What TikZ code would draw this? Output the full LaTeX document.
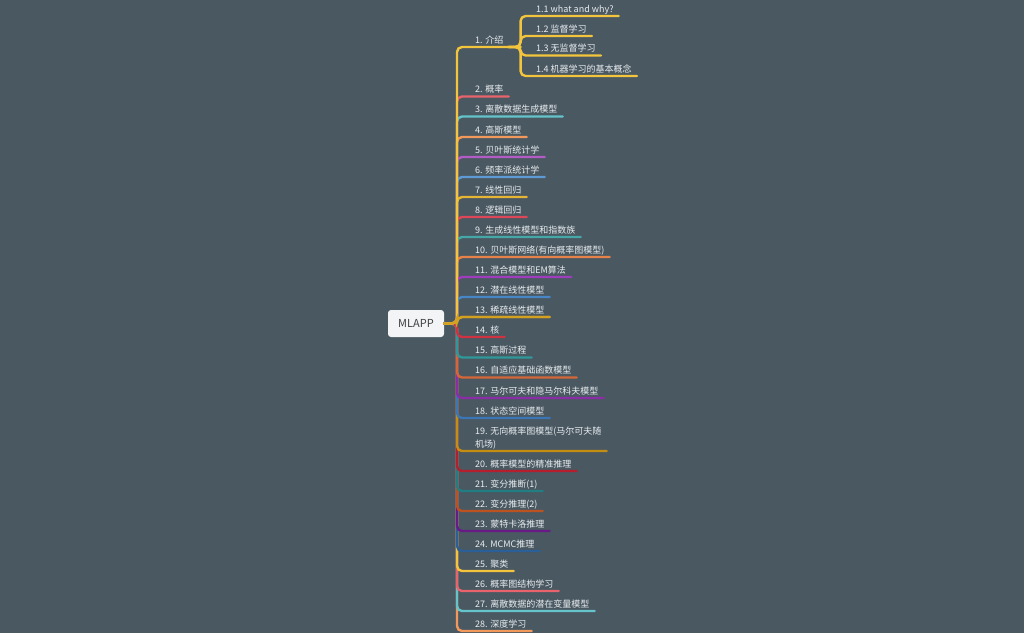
\documentclass[tikz,border=0pt]{standalone}
\usepackage{fontspec}
\setmainfont{Noto Sans CJK SC}
\usetikzlibrary{calc}
\definecolor{bg}{HTML}{4A5862}
\definecolor{txt}{HTML}{E8EDEF}
\definecolor{rootfill}{HTML}{F2F4F5}
\definecolor{roottxt}{HTML}{3C4043}
\definecolor{c1}{HTML}{F2C53D}
\definecolor{c2}{HTML}{E8636B}
\definecolor{c3}{HTML}{64C4CA}
\definecolor{c4}{HTML}{F2985B}
\definecolor{c5}{HTML}{B35BC6}
\definecolor{c6}{HTML}{5E9AD6}
\definecolor{c7}{HTML}{E6B534}
\definecolor{c8}{HTML}{DE4757}
\definecolor{c9}{HTML}{45A7A6}
\definecolor{c10}{HTML}{E6814A}
\definecolor{c11}{HTML}{9F3DBE}
\definecolor{c12}{HTML}{4787C5}
\definecolor{c13}{HTML}{D3A01F}
\definecolor{c14}{HTML}{CF3341}
\definecolor{c15}{HTML}{2F9899}
\definecolor{c16}{HTML}{D56737}
\definecolor{c17}{HTML}{8A2DA6}
\definecolor{c18}{HTML}{3A77B4}
\definecolor{c19}{HTML}{C48E12}
\definecolor{c20}{HTML}{B51F2D}
\definecolor{c21}{HTML}{227E80}
\definecolor{c22}{HTML}{BD5221}
\definecolor{c23}{HTML}{6A1A86}
\definecolor{c24}{HTML}{2B5F98}
\colorlet{c25}{c1}
\colorlet{c26}{c2}
\colorlet{c27}{c3}
\colorlet{c28}{c4}
\tikzset{
  lbl/.style={font=\fontsize{9}{13}\selectfont, text=txt, inner sep=0pt, anchor=base west},
  br/.style={line width=2.4pt, rounded corners=5pt, line cap=round},
  rootbox/.style={fill=rootfill, rounded corners=3pt, minimum width=56pt, minimum height=27pt,
    font=\fontsize{11}{13}\selectfont, text=roottxt, inner sep=0pt}
}
\begin{document}
\begin{tikzpicture}[x=1pt,y=-1pt]
\fill[bg] (0,0) rectangle (1024,633);
\useasboundingbox (0,0) rectangle (1024,633);

\node[rootbox] (root) at (416,323.5) {MLAPP};
\coordinate (tk) at (457,323.5);

% main topics
\node[lbl] (c1) at (475,43) {1. 介绍};
\node[lbl] (c2) at (475,92.5) {2. 概率};
\node[lbl] (c3) at (475,112.5) {3. 离散数据生成模型};
\node[lbl] (c4) at (475,133) {4. 高斯模型};
\node[lbl] (c5) at (475,153) {5. 贝叶斯统计学};
\node[lbl] (c6) at (475,173) {6. 频率派统计学};
\node[lbl] (c7) at (475,193) {7. 线性回归};
\node[lbl] (c8) at (475,213) {8. 逻辑回归};
\node[lbl] (c9) at (475,233) {9. 生成线性模型和指数族};
\node[lbl] (c10) at (475,253) {10. 贝叶斯网络(有向概率图模型)};
\node[lbl] (c11) at (475,273) {11. 混合模型和EM算法};
\node[lbl] (c12) at (475,293) {12. 潜在线性模型};
\node[lbl] (c13) at (475,313) {13. 稀疏线性模型};
\node[lbl] (c14) at (475,333) {14. 核};
\node[lbl] (c15) at (475,353.5) {15. 高斯过程};
\node[lbl] (c16) at (475,373.5) {16. 自适应基础函数模型};
\node[lbl] (c17) at (475,394) {17. 马尔可夫和隐马尔科夫模型};
\node[lbl] (c18) at (475,414) {18. 状态空间模型};
\node[lbl] (c19) at (475,447) {\begin{tabular}[b]{@{}l@{}}19. 无向概率图模型(马尔可夫随\\机场)\end{tabular}};
\node[lbl] (c20) at (475,467) {20. 概率模型的精准推理};
\node[lbl] (c21) at (475,487) {21. 变分推断(1)};
\node[lbl] (c22) at (475,507) {22. 变分推理(2)};
\node[lbl] (c23) at (475,527) {23. 蒙特卡洛推理};
\node[lbl] (c24) at (475,547) {24. MCMC推理};
\node[lbl] (c25) at (475,567) {25. 聚类};
\node[lbl] (c26) at (475,587) {26. 概率图结构学习};
\node[lbl] (c27) at (475,607) {27. 离散数据的潜在变量模型};
\node[lbl] (c28) at (475,627) {28. 深度学习};

% sub topics of 1
\node[lbl] (s1) at (536,12) {1.1 what and why?};
\node[lbl] (s2) at (536,32) {1.2 监督学习};
\node[lbl] (s3) at (536,51.5) {1.3 无监督学习};
\node[lbl] (s4) at (536,72) {1.4 机器学习的基本概念};

% underline end points
\foreach \n in {1,...,18,20,21,22,23,24,25,26,27,28}
  \coordinate (e\n) at ($(c\n.base east)+(5,4)$);
\coordinate (e19) at ($(c19.east |- 0,451)+(5,0)$);
\foreach \n in {1,...,4}
  \coordinate (f\n) at ($(s\n.base east)+(5,4)$);
\coordinate (j1) at ($(e1)+(12,0)$);

% connectors: lower half, then upper half
\foreach \n in {28,27,...,14}
  \draw[br, draw=c\n] (root.east) -- (tk) |- (e\n);
\foreach \n in {2,...,13}
  \draw[br, draw=c\n] (root.east) -- (tk) |- (e\n);
\draw[br, draw=c1] (root.east) -- (tk) |- (j1);
\foreach \n in {1,...,4}
  \draw[br, draw=c1] (e1) -- (j1) |- (f\n);
\draw[br, draw=c13] (root.east) -- (tk) |- (e13);
\end{tikzpicture}
\end{document}
